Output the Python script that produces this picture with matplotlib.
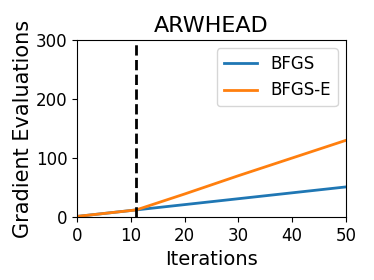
import matplotlib
matplotlib.use("Agg")
import matplotlib.pyplot as plt

# data
iters_bfgs = [0, 11, 20, 30, 40, 50]
evals_bfgs = [1, 12, 21, 31, 41, 51]
iters_bfgs_e = [0, 11, 20, 30, 40, 50]
evals_bfgs_e = [1, 12, 39, 70, 100, 130]
switch_iter = 11

fig, ax = plt.subplots(figsize=(3.74, 2.8), dpi=100)
ax.plot(iters_bfgs, evals_bfgs, color='#1f77b4', linewidth=2, label='BFGS')
ax.plot(iters_bfgs_e, evals_bfgs_e, color='#ff7f0e', linewidth=2, label='BFGS-E')
ax.axvline(switch_iter, color='black', linestyle='--', linewidth=2)

ax.set_xlim(0, 50)
ax.set_ylim(0, 300)
ax.set_xticks([0, 10, 20, 30, 40, 50])
ax.set_yticks([0, 100, 200, 300])
ax.tick_params(labelsize=12)
ax.set_title('ARWHEAD', fontsize=16)
ax.set_xlabel('Iterations', fontsize=14)
ax.set_ylabel('Gradient Evaluations', fontsize=15, labelpad=2)
ax.legend(fontsize=12, loc='upper right')

fig.subplots_adjust(left=0.206, right=0.925, top=0.857, bottom=0.225)
fig.savefig('out.png')
